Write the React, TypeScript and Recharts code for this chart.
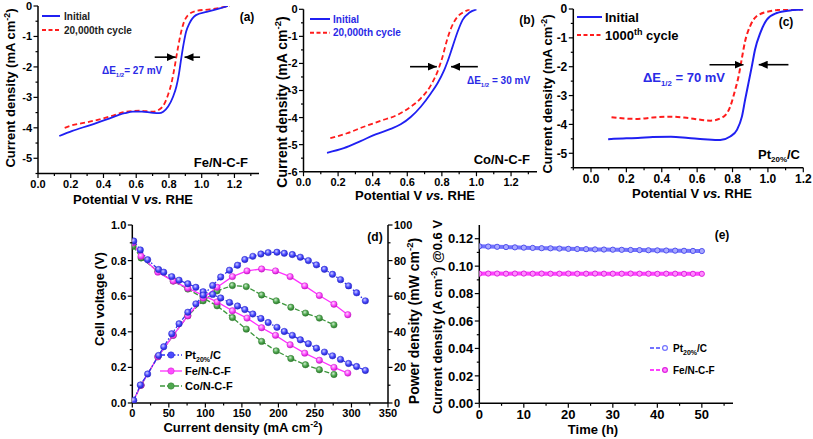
import React from 'react';
import { LineChart, Line, XAxis, YAxis, ReferenceLine } from 'recharts';

const FONT = '"Liberation Sans", Arial, Helvetica, sans-serif';
const BLUE = '#2020f2';
const RED = '#ff1c1c';
const TEXT_BLUE = '#2a2ae6';

// (a) Fe/N-C-F ORR curves
const aInitialE = [0.13, 0.21, 0.32, 0.42, 0.53, 0.58, 0.635, 0.69, 0.74, 0.765, 0.795, 0.825, 0.845, 0.86, 0.875, 0.89, 0.905, 0.925, 0.965, 1.03, 1.11, 1.16];
const aInitialJ = [-4.27, -4.1, -3.91, -3.72, -3.52, -3.47, -3.47, -3.5, -3.52, -3.47, -3.3, -2.98, -2.65, -2.26, -1.72, -1.23, -0.84, -0.57, -0.3, -0.19, -0.08, 0];
const aCycledE = [0.163, 0.2, 0.316, 0.438, 0.54, 0.62, 0.7, 0.743, 0.774, 0.794, 0.815, 0.835, 0.849, 0.866, 0.886, 0.916, 0.967, 1.05, 1.13, 1.17];
const aCycledJ = [-4.0, -3.93, -3.8, -3.63, -3.47, -3.44, -3.47, -3.39, -3.19, -2.92, -2.54, -1.99, -1.55, -1.06, -0.62, -0.3, -0.16, -0.11, -0.04, 0];

// (b) Co/N-C-F ORR curves
const bInitialE = [0.136, 0.233, 0.33, 0.417, 0.504, 0.562, 0.62, 0.678, 0.737, 0.775, 0.814, 0.833, 0.862, 0.891, 0.92, 0.96, 1.0];
const bInitialJ = [-5.3, -5.13, -4.87, -4.62, -4.42, -4.25, -3.98, -3.6, -3.1, -2.73, -2.24, -1.93, -1.38, -0.83, -0.39, -0.12, 0];
const bCycledE = [0.155, 0.252, 0.349, 0.446, 0.543, 0.62, 0.678, 0.737, 0.775, 0.804, 0.824, 0.853, 0.891, 0.93, 0.96];
const bCycledJ = [-4.76, -4.58, -4.34, -4.12, -3.9, -3.6, -3.29, -2.8, -2.3, -1.75, -1.26, -0.7, -0.27, -0.09, 0];

// (c) Pt20%/C ORR curves
const cInitialE = [0.097, 0.2, 0.265, 0.35, 0.452, 0.55, 0.638, 0.731, 0.787, 0.825, 0.853, 0.871, 0.89, 0.909, 0.927, 0.957, 0.994, 1.05, 1.125, 1.2];
const cInitialJ = [-4.51, -4.48, -4.47, -4.44, -4.43, -4.47, -4.51, -4.54, -4.42, -4.19, -3.73, -3.15, -2.57, -1.99, -1.41, -0.83, -0.37, -0.14, -0.05, -0.02];
const cCycledE = [0.116, 0.2, 0.265, 0.35, 0.452, 0.55, 0.676, 0.75, 0.787, 0.815, 0.834, 0.853, 0.871, 0.899, 0.936, 1.01, 1.1, 1.2];
const cCycledJ = [-3.75, -3.8, -3.81, -3.76, -3.73, -3.78, -3.87, -3.73, -3.38, -2.8, -2.34, -1.7, -1.12, -0.6, -0.25, -0.08, -0.02, -0.02];

const potentialTicks = [0, 0.2, 0.4, 0.6, 0.8, 1.0, 1.2];
const potentialMinorAB = [0.1, 0.3, 0.5, 0.7, 0.9, 1.1, 1.3];
const potentialMinorC = [-0.1, 0.1, 0.3, 0.5, 0.7, 0.9, 1.1];
const jTicksA = [-5, -4, -3, -2, -1, 0];
const jTicksB = [-6, -5, -4, -3, -2, -1, 0];
const jMinor = [-5.5, -4.5, -3.5, -2.5, -1.5, -0.5];

// (d) single cell polarization and power density
const ptCurrent = [2, 11, 21, 36, 43, 54, 64, 76, 87, 97, 110, 121, 133, 144, 154, 165, 176, 186, 198, 208, 219, 230, 241, 252, 263, 274, 285, 296, 307, 319];
const ptVoltage = [0.91, 0.86, 0.805, 0.75, 0.735, 0.71, 0.69, 0.67, 0.65, 0.625, 0.61, 0.59, 0.565, 0.545, 0.525, 0.5, 0.475, 0.452, 0.425, 0.402, 0.38, 0.355, 0.333, 0.308, 0.286, 0.265, 0.245, 0.222, 0.205, 0.183];
const ptPower = [1.5, 10.1, 16.3, 26.7, 31.6, 38.9, 44.5, 51, 55.7, 60.6, 66, 70.8, 74.6, 77.4, 80.6, 82.4, 83.7, 84.5, 84.7, 84.1, 83.4, 81.9, 80, 77.6, 75.1, 72.3, 69.3, 65.8, 61.9, 57.4];
const feCurrent = [1, 12, 35, 56, 76, 97, 116, 137, 157, 177, 196, 216, 236, 256, 276, 295];
const feVoltage = [0.9, 0.825, 0.735, 0.685, 0.645, 0.605, 0.568, 0.518, 0.477, 0.423, 0.38, 0.327, 0.28, 0.24, 0.2, 0.168];
const fePower = [1, 10, 26, 38, 49, 59, 65, 71, 74.2, 75.3, 74.2, 71, 65.8, 60.4, 55.5, 49.6];
const coCurrent = [1, 12, 35, 56, 76, 97, 116, 137, 156, 177, 197, 217, 237, 256, 276];
const coVoltage = [0.88, 0.815, 0.74, 0.685, 0.64, 0.59, 0.546, 0.48, 0.415, 0.346, 0.293, 0.25, 0.215, 0.187, 0.16];
const coPower = [1, 10, 26, 38, 49, 57.4, 63, 66, 65.4, 60.7, 57.4, 53.8, 50.5, 47.7, 43.9];

const currentTicks = [0, 50, 100, 150, 200, 250, 300, 350];
const currentMinor = [25, 75, 125, 175, 225, 275, 325];
const voltageTicks = [0, 0.2, 0.4, 0.6, 0.8, 1.0];
const voltageMinor = [0.1, 0.3, 0.5, 0.7, 0.9];
const powerTicks = [0, 20, 40, 60, 80, 100];
const powerMinor = [10, 30, 50, 70, 90];

// (e) stability at 0.6 V
const hours = [0, 2, 4, 6, 8, 10, 12, 14, 16, 18, 20, 22, 24, 26, 28, 30, 32, 34, 36, 38, 40, 42, 44, 46, 48, 50];
const ptStability = [0.1145, 0.1143, 0.1141, 0.1139, 0.1137, 0.1135, 0.1133, 0.1131, 0.113, 0.1128, 0.1126, 0.1125, 0.1124, 0.1122, 0.1121, 0.112, 0.1119, 0.1118, 0.1117, 0.1116, 0.1115, 0.1114, 0.1113, 0.1112, 0.1111, 0.111];
const feStability = [0.0945, 0.0946, 0.0946, 0.0945, 0.0946, 0.0946, 0.0945, 0.0946, 0.0945, 0.0945, 0.0946, 0.0945, 0.0945, 0.0946, 0.0945, 0.0945, 0.0945, 0.0946, 0.0945, 0.0945, 0.0944, 0.0945, 0.0945, 0.0944, 0.0944, 0.0944];
const hourTicks = [0, 10, 20, 30, 40, 50];
const hourMinor = [5, 15, 25, 35, 45, 55];
const stabilityTicks = [0, 0.02, 0.04, 0.06, 0.08, 0.1, 0.12];
const stabilityMinor = [0.01, 0.03, 0.05, 0.07, 0.09, 0.11];

const toPoints = (xs: number[], ys: number[]) => xs.map((x, i) => ({ x, y: ys[i] }));
const withMinor = (major: number[], minor: number[]) => [...major, ...minor].sort((p, q) => p - q);

const TICK_SIZE = 4;
const TICK_MARGIN = 2;
const axisLine = { stroke: '#000', strokeWidth: 1.5 };

// tick renderer: long ticks + labels for major values, short unlabelled ticks for minor ones
const makeTick = (side: 'bottom' | 'left' | 'right', major: number[], fontSize: number, fmt: (v: number) => string) => (props: any) => {
  const { x, y, payload } = props;
  const v = payload.value as number;
  const isMajor = major.some((m) => Math.abs(m - v) < 1e-9);
  const len = isMajor ? 4.5 : 2.5;
  const textProps = { fontSize, fontFamily: FONT, fontWeight: 700, fill: '#000' };
  if (side === 'bottom') {
    const ay = y - TICK_SIZE - TICK_MARGIN;
    return (
      <g>
        <line x1={x} x2={x} y1={ay} y2={ay + len} stroke="#000" strokeWidth={1.2} />
        {isMajor && (
          <text x={x} y={y} dy="0.75em" textAnchor="middle" {...textProps}>{fmt(v)}</text>
        )}
      </g>
    );
  }
  const dir = side === 'left' ? -1 : 1;
  const ax = x - dir * (TICK_SIZE + TICK_MARGIN);
  return (
    <g>
      <line x1={ax} x2={ax + dir * len} y1={y} y2={y} stroke="#000" strokeWidth={1.2} />
      {isMajor && (
        <text x={x} y={y} dy="0.36em" textAnchor={side === 'left' ? 'end' : 'start'} {...textProps}>{fmt(v)}</text>
      )}
    </g>
  );
};

interface RdeProps {
  id: string;
  left: number;
  width: number;
  yAxisWidth: number;
  xHeight: number;
  margin: { top: number; right: number; bottom: number; left: number };
  xDomain: [number, number];
  xMinor: number[];
  yDomain: [number, number];
  yTicks: number[];
  initial: { x: number; y: number }[];
  cycled: { x: number; y: number }[];
  arrowY: number;
  arrows: [number, number][];
  fontSize: number;
  lineWidth: number;
}

const RdePanel: React.FC<RdeProps> = (p) => {
  const arrowShape = (props: any) => (
    <line x1={props.x1} y1={props.y1} x2={props.x2} y2={props.y2} stroke="#000" strokeWidth={1.6} markerEnd={`url(#head-${p.id})`} />
  );
  return (
    <div style={{ position: 'absolute', left: p.left, top: 0 }}>
      <LineChart width={p.width} height={215} margin={p.margin}>
        <defs>
          <marker id={`head-${p.id}`} markerUnits="userSpaceOnUse" markerWidth={9} markerHeight={8} refX={9} refY={4} orient="auto" viewBox="0 0 9 8">
            <path d="M0,0 L9,4 L0,8 z" fill="#000" />
          </marker>
        </defs>
        <XAxis
          type="number"
          dataKey="x"
          domain={p.xDomain}
          ticks={withMinor(potentialTicks, p.xMinor)}
          interval={0}
          allowDataOverflow
          height={p.xHeight}
          tick={makeTick('bottom', potentialTicks, p.fontSize, (v) => v.toFixed(1))}
          axisLine={axisLine}
          tickLine={false}
          tickSize={TICK_SIZE}
          tickMargin={TICK_MARGIN}
        />
        <XAxis xAxisId="top" orientation="top" type="number" domain={p.xDomain} height={0} tick={false} tickLine={false} axisLine={axisLine} />
        <YAxis
          type="number"
          domain={p.yDomain}
          ticks={withMinor(p.yTicks, jMinor)}
          interval={0}
          allowDataOverflow
          width={p.yAxisWidth}
          tick={makeTick('left', p.yTicks, p.fontSize, (v) => String(v))}
          axisLine={axisLine}
          tickLine={false}
          tickSize={TICK_SIZE}
          tickMargin={TICK_MARGIN}
        />
        <YAxis yAxisId="right" orientation="right" type="number" domain={p.yDomain} width={0} tick={false} tickLine={false} axisLine={axisLine} />
        <Line data={p.cycled} dataKey="y" type="monotone" stroke={RED} strokeWidth={p.lineWidth} strokeDasharray="5 3" dot={false} isAnimationActive={false} />
        <Line data={p.initial} dataKey="y" type="monotone" stroke={BLUE} strokeWidth={p.lineWidth} dot={false} isAnimationActive={false} />
        {p.arrows.map(([from, to], i) => (
          <ReferenceLine key={i} segment={[{ x: from, y: p.arrowY }, { x: to, y: p.arrowY }]} shape={arrowShape} />
        ))}
      </LineChart>
    </div>
  );
};

const PolarizationPanel = () => (
  <div style={{ position: 'absolute', left: 80, top: 215 }}>
    <LineChart width={350} height={224} margin={{ top: 10, right: 0, bottom: 16, left: 0 }}>
      <defs>
        <radialGradient id="ballPt" cx="40%" cy="35%" r="65%">
          <stop offset="0%" stopColor="#d0d0ff" />
          <stop offset="55%" stopColor="#4a4aff" />
          <stop offset="100%" stopColor="#2626c8" />
        </radialGradient>
        <radialGradient id="ballFe" cx="40%" cy="35%" r="65%">
          <stop offset="0%" stopColor="#ffd6ff" />
          <stop offset="55%" stopColor="#ff4cff" />
          <stop offset="100%" stopColor="#c81ec8" />
        </radialGradient>
        <radialGradient id="ballCo" cx="40%" cy="35%" r="65%">
          <stop offset="0%" stopColor="#cfeccf" />
          <stop offset="55%" stopColor="#4fa84f" />
          <stop offset="100%" stopColor="#2e7a2e" />
        </radialGradient>
      </defs>
      <XAxis
        type="number"
        dataKey="x"
        domain={[0, 350]}
        ticks={withMinor(currentTicks, currentMinor)}
        interval={0}
        allowDataOverflow
        height={20}
        tick={makeTick('bottom', currentTicks, 11, (v) => String(v))}
        axisLine={axisLine}
        tickLine={false}
        tickSize={TICK_SIZE}
        tickMargin={TICK_MARGIN}
      />
      <XAxis xAxisId="top" orientation="top" type="number" domain={[0, 350]} height={0} tick={false} tickLine={false} axisLine={axisLine} />
      <YAxis
        yAxisId="v"
        type="number"
        domain={[0, 1]}
        ticks={withMinor(voltageTicks, voltageMinor)}
        interval={0}
        allowDataOverflow
        width={52.3}
        tick={makeTick('left', voltageTicks, 11, (v) => v.toFixed(1))}
        axisLine={axisLine}
        tickLine={false}
        tickSize={TICK_SIZE}
        tickMargin={TICK_MARGIN}
      />
      <YAxis
        yAxisId="p"
        orientation="right"
        type="number"
        domain={[0, 100]}
        ticks={withMinor(powerTicks, powerMinor)}
        interval={0}
        allowDataOverflow
        width={42}
        tick={makeTick('right', powerTicks, 11, (v) => String(v))}
        axisLine={axisLine}
        tickLine={false}
        tickSize={TICK_SIZE}
        tickMargin={TICK_MARGIN}
      />
      <Line yAxisId="v" data={toPoints(coCurrent, coVoltage)} dataKey="y" stroke="#3c963c" strokeWidth={1.3} strokeDasharray="5 2" dot={{ r: 3.2, fill: 'url(#ballCo)', stroke: '#2e7a2e', strokeWidth: 0.5, strokeDasharray: '' }} isAnimationActive={false} />
      <Line yAxisId="p" data={toPoints(coCurrent, coPower)} dataKey="y" stroke="#3c963c" strokeWidth={1.3} strokeDasharray="5 2" dot={{ r: 3.2, fill: 'url(#ballCo)', stroke: '#2e7a2e', strokeWidth: 0.5, strokeDasharray: '' }} isAnimationActive={false} />
      <Line yAxisId="v" data={toPoints(feCurrent, feVoltage)} dataKey="y" stroke="#ff30ff" strokeWidth={1.3} dot={{ r: 3.2, fill: 'url(#ballFe)', stroke: '#c81ec8', strokeWidth: 0.5 }} isAnimationActive={false} />
      <Line yAxisId="p" data={toPoints(feCurrent, fePower)} dataKey="y" stroke="#ff30ff" strokeWidth={1.3} dot={{ r: 3.2, fill: 'url(#ballFe)', stroke: '#c81ec8', strokeWidth: 0.5 }} isAnimationActive={false} />
      <Line yAxisId="v" data={toPoints(ptCurrent, ptVoltage)} dataKey="y" stroke="#3030f0" strokeWidth={1.3} strokeDasharray="5 2 1.5 2" dot={{ r: 3.2, fill: 'url(#ballPt)', stroke: '#2626c8', strokeWidth: 0.5, strokeDasharray: '' }} isAnimationActive={false} />
      <Line yAxisId="p" data={toPoints(ptCurrent, ptPower)} dataKey="y" stroke="#3030f0" strokeWidth={1.3} strokeDasharray="5 2 1.5 2" dot={{ r: 3.2, fill: 'url(#ballPt)', stroke: '#2626c8', strokeWidth: 0.5, strokeDasharray: '' }} isAnimationActive={false} />
    </LineChart>
  </div>
);

const StabilityPanel = () => (
  <div style={{ position: 'absolute', left: 430, top: 215 }}>
    <LineChart width={383} height={224} margin={{ top: 10, right: 80, bottom: 15.7, left: 0 }}>
      <XAxis
        type="number"
        dataKey="x"
        domain={[0, 57]}
        ticks={withMinor(hourTicks, hourMinor)}
        interval={0}
        allowDataOverflow
        height={20}
        tick={makeTick('bottom', hourTicks, 13, (v) => String(v))}
        axisLine={axisLine}
        tickLine={false}
        tickSize={TICK_SIZE}
        tickMargin={TICK_MARGIN}
      />
      <XAxis xAxisId="top" orientation="top" type="number" domain={[0, 57]} height={0} tick={false} tickLine={false} axisLine={axisLine} />
      <YAxis
        type="number"
        domain={[0, 0.13]}
        ticks={withMinor(stabilityTicks, stabilityMinor)}
        interval={0}
        allowDataOverflow
        width={49.3}
        tick={makeTick('left', stabilityTicks, 13, (v) => v.toFixed(2))}
        axisLine={axisLine}
        tickLine={false}
        tickSize={TICK_SIZE}
        tickMargin={TICK_MARGIN}
      />
      <YAxis yAxisId="right" orientation="right" type="number" domain={[0, 0.13]} width={0} tick={false} tickLine={false} axisLine={axisLine} />
      <Line data={toPoints(hours, feStability)} dataKey="y" stroke="#ff40ff" strokeWidth={4} dot={{ r: 2.6, fill: '#ff8cff', stroke: '#e020e0', strokeWidth: 1 }} isAnimationActive={false} />
      <Line data={toPoints(hours, ptStability)} dataKey="y" stroke="#7272ff" strokeWidth={4} dot={{ r: 2.6, fill: '#a8a8ff', stroke: '#5050ee', strokeWidth: 1 }} isAnimationActive={false} />
    </LineChart>
  </div>
);

const CmUnit = ({ unit, size }: { unit: string; size: number }) => (
  <>
    ({unit} cm<tspan dy={-size * 0.4} fontSize={size * 0.68}>-2</tspan>
    <tspan dy={size * 0.4}>)</tspan>
  </>
);

const DeltaE = ({ x, y, size, rest }: { x: number; y: number; size: number; rest: string }) => (
  <text x={x} y={y} fontSize={size} fontWeight={700} fill={TEXT_BLUE}>
    ΔE<tspan fontSize={size * 0.6} dy={size * 0.3}>1/2</tspan>
    <tspan dy={-size * 0.3}>{rest}</tspan>
  </text>
);

const VTitle = ({ x, y, size, children }: { x: number; y: number; size: number; children: React.ReactNode }) => (
  <text x={x} y={y} transform={`rotate(-90 ${x} ${y})`} textAnchor="middle" fontSize={size} fontWeight={700}>
    {children}
  </text>
);

const LegendLine = ({ x1, x2, y, color, dash, width }: { x1: number; x2: number; y: number; color: string; dash?: string; width: number }) => (
  <line x1={x1} x2={x2} y1={y} y2={y} stroke={color} strokeWidth={width} strokeDasharray={dash} />
);

const Annotations = () => (
  <svg width={813} height={439} style={{ position: 'absolute', left: 0, top: 0, pointerEvents: 'none' }} fontFamily={FONT}>
    {/* (a) */}
    <VTitle x={15} y={88} size={13}>Current density <CmUnit unit="mA" size={13} /></VTitle>
    <text x={133} y={204} textAnchor="middle" fontSize={13} fontWeight={700}>
      Potential V <tspan fontStyle="italic">vs.</tspan> RHE
    </text>
    <LegendLine x1={42} x2={60} y={16} color={BLUE} width={2} />
    <text x={64} y={19.5} fontSize={10} fontWeight={700} fill="#222">Initial</text>
    <LegendLine x1={42} x2={60} y={30} color={RED} dash="4 2.5" width={2} />
    <text x={64} y={33.5} fontSize={10} fontWeight={700} fill="#222">20,000th cycle</text>
    <text x={247} y={21} textAnchor="middle" fontSize={12} fontWeight={700}>(a)</text>
    <DeltaE x={102} y={74} size={10} rest="= 27 mV" />
    <text x={248} y={167} textAnchor="end" fontSize={13} fontWeight={700}>Fe/N-C-F</text>

    {/* (b) */}
    <VTitle x={287} y={102} size={14}>Current density <CmUnit unit="mA" size={14} /></VTitle>
    <text x={415} y={200} textAnchor="middle" fontSize={13} fontWeight={700}>
      Potential V <tspan fontStyle="italic">vs.</tspan> RHE
    </text>
    <LegendLine x1={310} x2={330} y={19} color={BLUE} width={2} />
    <text x={333} y={22.5} fontSize={10} fontWeight={700} fill={TEXT_BLUE}>Initial</text>
    <LegendLine x1={310} x2={330} y={32.7} color={RED} dash="4 2.5" width={2} />
    <text x={333} y={36.2} fontSize={10} fontWeight={700} fill={TEXT_BLUE}>20,000th cycle</text>
    <text x={527} y={24} textAnchor="middle" fontSize={12} fontWeight={700}>(b)</text>
    <DeltaE x={467} y={84} size={10} rest=" = 30 mV" />
    <text x={530} y={164} textAnchor="end" fontSize={13} fontWeight={700}>Co/N-C-F</text>

    {/* (c) */}
    <VTitle x={552} y={94} size={13}>Current density <CmUnit unit="mA" size={13} /></VTitle>
    <text x={692} y={198} textAnchor="middle" fontSize={13} fontWeight={700}>
      Potential V <tspan fontStyle="italic">vs.</tspan> RHE
    </text>
    <LegendLine x1={577} x2={602} y={17} color={BLUE} width={2} />
    <text x={605} y={21.5} fontSize={13} fontWeight={700}>Initial</text>
    <LegendLine x1={577} x2={602} y={35} color={RED} dash="4 2.5" width={2} />
    <text x={605} y={39.5} fontSize={13} fontWeight={700}>
      1000<tspan dy={-5} fontSize={9}>th</tspan>
      <tspan dy={5}> cycle</tspan>
    </text>
    <text x={786} y={26} textAnchor="middle" fontSize={12} fontWeight={700}>(c)</text>
    <DeltaE x={643} y={82} size={13} rest=" = 70 mV" />
    <text x={800} y={159} textAnchor="end" fontSize={13} fontWeight={700}>
      Pt<tspan dy={3} fontSize={8}>20%</tspan>
      <tspan dy={-3}>/C</tspan>
    </text>

    {/* (d) */}
    <VTitle x={104} y={299} size={13}>Cell voltage (V)</VTitle>
    <text x={0} y={0} transform="translate(419 321) rotate(-90)" textAnchor="middle" fontSize={14} fontWeight={700}>
      Power density <CmUnit unit="mW" size={14} />
    </text>
    <text x={243} y={432} textAnchor="middle" fontSize={13} fontWeight={700}>
      Current density <CmUnit unit="mA" size={13} />
    </text>
    <text x={375} y={241} textAnchor="middle" fontSize={12} fontWeight={700}>(d)</text>
    <LegendLine x1={160} x2={182} y={355} color="#3030f0" dash="5 2 1.5 2" width={1.3} />
    <circle cx={171} cy={355} r={3.2} fill="#4a4aff" stroke="#2626c8" strokeWidth={0.5} />
    <text x={185} y={359} fontSize={11} fontWeight={700}>
      Pt<tspan dy={3} fontSize={7}>20%</tspan>
      <tspan dy={-3}>/C</tspan>
    </text>
    <LegendLine x1={160} x2={182} y={371} color="#ff30ff" width={1.3} />
    <circle cx={171} cy={371} r={3.2} fill="#ff4cff" stroke="#c81ec8" strokeWidth={0.5} />
    <text x={185} y={375} fontSize={11} fontWeight={700}>Fe/N-C-F</text>
    <LegendLine x1={160} x2={182} y={386} color="#3c963c" dash="5 2" width={1.3} />
    <circle cx={171} cy={386} r={3.2} fill="#4fa84f" stroke="#2e7a2e" strokeWidth={0.5} />
    <text x={185} y={390} fontSize={11} fontWeight={700}>Co/N-C-F</text>

    {/* (e) */}
    <VTitle x={442} y={317} size={13}>
      Current density <CmUnit unit="A" size={13} /> @0.6 V
    </VTitle>
    <text x={593} y={434} textAnchor="middle" fontSize={13} fontWeight={700}>Time (h)</text>
    <text x={722} y={239} textAnchor="middle" fontSize={12} fontWeight={700}>(e)</text>
    <LegendLine x1={650} x2={668} y={348} color="#7272ff" dash="4 2" width={2} />
    <circle cx={665} cy={348} r={2.4} fill="#fff" stroke="#7272ff" strokeWidth={1.2} />
    <text x={673} y={352} fontSize={10} fontWeight={700}>
      Pt<tspan dy={3} fontSize={7}>20%</tspan>
      <tspan dy={-3}>/C</tspan>
    </text>
    <LegendLine x1={650} x2={668} y={370} color="#ff40ff" dash="4 2" width={2} />
    <circle cx={665} cy={370} r={2.4} fill="#ff8cff" stroke="#e020e0" strokeWidth={1.2} />
    <text x={673} y={374} fontSize={10} fontWeight={700}>Fe/N-C-F</text>
  </svg>
);

const App: React.FC = () => (
  <div style={{ position: 'absolute', left: 0, top: 0, width: 813, height: 439, background: '#fff', fontFamily: FONT }}>
    <RdePanel
      id="a"
      left={0}
      width={272}
      yAxisWidth={38}
      xHeight={20}
      margin={{ top: 6, right: 13, bottom: 21.5, left: 0 }}
      xDomain={[0, 1.35]}
      xMinor={potentialMinorAB}
      yDomain={[-5.5, 0]}
      yTicks={jTicksA}
      initial={toPoints(aInitialE, aInitialJ)}
      cycled={toPoints(aCycledE, aCycledJ)}
      arrowY={-1.68}
      arrows={[[0.713, 0.841], [0.99, 0.895]]}
      fontSize={11}
      lineWidth={1.8}
    />
    <RdePanel
      id="b"
      left={270}
      width={272}
      yAxisWidth={33.5}
      xHeight={20}
      margin={{ top: 9.3, right: 5, bottom: 23.3, left: 0 }}
      xDomain={[0, 1.35]}
      xMinor={potentialMinorAB}
      yDomain={[-6, 0]}
      yTicks={jTicksB}
      initial={toPoints(bInitialE, bInitialJ)}
      cycled={toPoints(bCycledE, bCycledJ)}
      arrowY={-2.12}
      arrows={[[0.616, 0.771], [1.008, 0.853]]}
      fontSize={11}
      lineWidth={1.8}
    />
    <RdePanel
      id="c"
      left={540}
      width={273}
      yAxisWidth={33.3}
      xHeight={22}
      margin={{ top: 9, right: 9.7, bottom: 25.3, left: 0 }}
      xDomain={[-0.1, 1.2]}
      xMinor={potentialMinorC}
      yDomain={[-5.5, 0]}
      yTicks={jTicksA}
      initial={toPoints(cInitialE, cInitialJ)}
      cycled={toPoints(cCycledE, cCycledJ)}
      arrowY={-1.93}
      arrows={[[0.67, 0.862], [1.116, 0.948]]}
      fontSize={12}
      lineWidth={2}
    />
    <PolarizationPanel />
    <StabilityPanel />
    <Annotations />
  </div>
);

export default App;
